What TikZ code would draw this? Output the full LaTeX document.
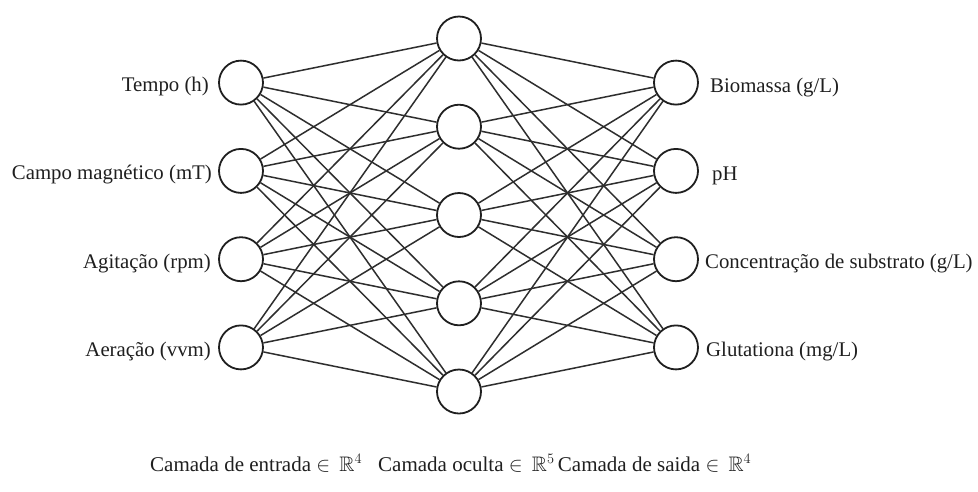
\documentclass[tikz,border=0pt]{standalone}
\usepackage{fontspec}
\usepackage{amssymb}
\setmainfont{Liberation Serif}
\begin{document}
\begin{tikzpicture}[x=1pt,y=-1pt,
  neuron/.style={circle,draw=black!88,line width=1.8pt,fill=white,minimum size=44pt,inner sep=0pt},
  synapse/.style={draw=black!82,line width=1.5pt},
  lbl/.style={font=\fontsize{20.8}{24}\selectfont,inner sep=0pt,text=black!88},
  layerlbl/.style={font=\fontsize{21}{25}\selectfont,inner sep=0pt,text=black!88,anchor=base west}]
\useasboundingbox (0,0) rectangle (978,491);
\fill[white] (0,0) rectangle (978,491);

% input layer
\node[neuron] (i1) at (241,82.6) {};
\node[neuron] (i2) at (241,170.9) {};
\node[neuron] (i3) at (241,259.2) {};
\node[neuron] (i4) at (241,347.4) {};

% hidden layer
\node[neuron] (h1) at (459,38.5) {};
\node[neuron] (h2) at (459,126.7) {};
\node[neuron] (h3) at (459,215) {};
\node[neuron] (h4) at (459,303.3) {};
\node[neuron] (h5) at (459,391.5) {};

% output layer
\node[neuron] (o1) at (676,82.6) {};
\node[neuron] (o2) at (676,170.9) {};
\node[neuron] (o3) at (676,259.2) {};
\node[neuron] (o4) at (676,347.4) {};

% fully connected weights
\foreach \a in {1,...,4}
  \foreach \b in {1,...,5}
    \draw[synapse] (i\a) -- (h\b);
\foreach \b in {1,...,5}
  \foreach \c in {1,...,4}
    \draw[synapse] (h\b) -- (o\c);

% input labels
\node[lbl,anchor=base east] (li1) at (209,91.6) {Tempo (h)};
\node[lbl,anchor=base east] (li2) at (212,179.9) {Campo magnético (mT)};
\node[lbl,anchor=base east] (li3) at (211,268.2) {Agitação (rpm)};
\node[lbl,anchor=base east] (li4) at (211,356.4) {Aeração (vvm)};

% output labels
\node[lbl,anchor=base west] (lo1) at (710,92.1) {Biomassa (g/L)};
\node[lbl,anchor=base west] (lo2) at (712,180.4) {pH};
\node[lbl,anchor=base west] (lo3) at (705,268.7) {Concentração de substrato (g/L)};
\node[lbl,anchor=base west] (lo4) at (706,356.9) {Glutationa (mg/L)};

% layer captions
\node[layerlbl] (entrada) at (150,471) {Camada de entrada $\in\,\mathbb{R}^4$};
\node[layerlbl] (oculta) at (378,471) {Camada oculta $\in\,\mathbb{R}^5$};
\node[layerlbl] (saida) at ([xshift=3pt]oculta.base east) {Camada de saida $\in\,\mathbb{R}^4$};
\end{tikzpicture}
\end{document}
